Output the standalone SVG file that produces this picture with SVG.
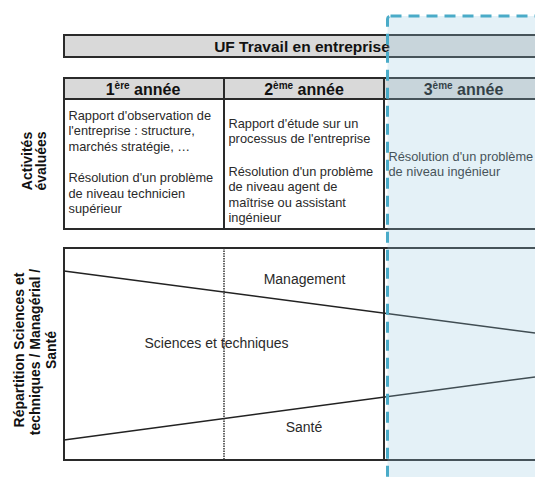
<svg xmlns="http://www.w3.org/2000/svg" width="535" height="477" viewBox="0 0 535 477">
  <style>
    .box { stroke: #2a2a2a; stroke-width: 2; }
    .hdr { fill: #d9d9d9; }
    .cell { fill: #ffffff; }
    .bold { font-family: "Liberation Sans", Arial, sans-serif; font-weight: bold; fill: #111; }
    .hd { font-family: "Liberation Sans", Arial, sans-serif; font-weight: bold; font-size: 16px; fill: #111; text-anchor: middle; }
    .sup { font-size: 10px; }
    .txt { font-family: "Liberation Sans", Arial, sans-serif; font-size: 12.8px; fill: #2a2a2a; }
    .lbl { font-family: "Liberation Sans", Arial, sans-serif; font-size: 14px; fill: #2a2a2a; text-anchor: middle; }
    .side { font-family: "Liberation Sans", Arial, sans-serif; font-weight: bold; font-size: 14px; fill: #111; text-anchor: middle; }
    .div { stroke: #222; stroke-width: 1.5; fill: none; }
  </style>

  <rect width="535" height="477" fill="#ffffff"/>

  <g id="title">
    <rect class="box hdr" x="64" y="35" width="480" height="22"/>
    <text class="bold" x="302" y="51.5" font-size="15.5" text-anchor="middle">UF Travail en entreprise</text>
  </g>

  <g id="table-activites">
    <rect class="box cell" x="64" y="78" width="480" height="151"/>
    <rect class="box hdr" x="64" y="78" width="480" height="21"/>
    <line class="box" x1="224" y1="78" x2="224" y2="229"/>
    <line class="box" x1="384" y1="78" x2="384" y2="229"/>
  </g>

  <g id="header-1">
    <text class="hd" x="143" y="94.5">1<tspan class="sup" dy="-6">ère</tspan><tspan dy="6"> année</tspan></text>
  </g>
  <g id="header-2">
    <text class="hd" x="304" y="94.5">2<tspan class="sup" dy="-6">ème</tspan><tspan dy="6"> année</tspan></text>
  </g>
  <g id="header-3">
    <text class="hd" x="463.5" y="94.5" font-weight="normal">3<tspan class="sup" dy="-6">ème</tspan><tspan dy="6"> année</tspan></text>
  </g>

  <g id="cell-1">
    <text class="txt" x="68.5">
      <tspan x="68.5" y="119.5">Rapport d'observation de</tspan>
      <tspan x="68.5" y="135">l'entreprise : structure,</tspan>
      <tspan x="68.5" y="150.5">marchés stratégie, …</tspan>
      <tspan x="68.5" y="182">Résolution d'un problème</tspan>
      <tspan x="68.5" y="197.5">de niveau technicien</tspan>
      <tspan x="68.5" y="213">supérieur</tspan>
    </text>
  </g>
  <g id="cell-2">
    <text class="txt" x="228.5">
      <tspan x="228.5" y="127.5">Rapport d'étude sur un</tspan>
      <tspan x="228.5" y="143">processus de l'entreprise</tspan>
      <tspan x="228.5" y="175.5">Résolution d'un problème</tspan>
      <tspan x="228.5" y="191">de niveau agent de</tspan>
      <tspan x="228.5" y="206.5">maîtrise ou assistant</tspan>
      <tspan x="228.5" y="222">ingénieur</tspan>
    </text>
  </g>
  <g id="cell-3">
    <text class="txt" x="388.5">
      <tspan x="388.5" y="161">Résolution d'un problème</tspan>
      <tspan x="388.5" y="175.5">de niveau ingénieur</tspan>
    </text>
  </g>

  <g id="label-activites">
    <text class="side" transform="translate(32,161) rotate(-90)">Activités</text>
    <text class="side" transform="translate(46,161) rotate(-90)">évaluées</text>
  </g>

  <g id="label-repartition">
    <text class="side" transform="translate(24,350) rotate(-90)">Répartition Sciences et</text>
    <text class="side" transform="translate(40,352) rotate(-90)">techniques / Managérial /</text>
    <text class="side" transform="translate(56,350) rotate(-90)">Santé</text>
  </g>

  <g id="repartition-box">
    <rect class="box cell" x="64" y="248" width="480" height="212"/>
    <line x1="224" y1="248" x2="224" y2="460" stroke="#333" stroke-width="1.5" stroke-dasharray="1.5 1"/>
    <line class="box" x1="384" y1="248" x2="384" y2="460"/>
  </g>

  <g id="connectors">
    <line class="div" x1="64" y1="271" x2="535" y2="333"/>
    <line class="div" x1="64" y1="440" x2="535" y2="377"/>
  </g>

  <g id="label-management">
    <text class="lbl" x="304.5" y="284">Management</text>
  </g>
  <g id="label-sciences">
    <text class="lbl" x="216.5" y="348">Sciences et techniques</text>
  </g>
  <g id="label-sante">
    <text class="lbl" x="304" y="432">Santé</text>
  </g>

  <g id="year-3-highlight">
    <rect x="387.5" y="16" width="200" height="520" rx="3" fill="rgb(151,201,224)" fill-opacity="0.26" stroke="#4aabc8" stroke-width="3" stroke-dasharray="11 7"/>
  </g>
</svg>
